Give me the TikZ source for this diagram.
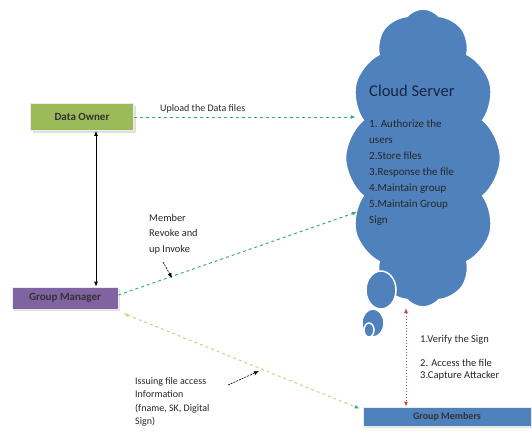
\documentclass[tikz,border=0pt]{standalone}
\usepackage{fontspec}
\setmainfont{Carlito}
\usetikzlibrary{arrows.meta,positioning,shapes.symbols,shadows}
\definecolor{ownergreen}{RGB}{155,187,89}
\definecolor{mgrpurple}{RGB}{128,100,162}
\definecolor{cloudblue}{RGB}{79,129,189}
\definecolor{titleblue}{RGB}{25,35,65}
\definecolor{flowgreen}{RGB}{55,175,115}
\definecolor{flowyellow}{RGB}{205,210,120}
\definecolor{flowred}{RGB}{200,70,70}

\begin{document}
\begin{tikzpicture}[x=1pt,y=-1pt,
  box/.style={draw=black!8,line width=0.8pt,inner sep=0pt,text=black!80,
    font=\fontsize{11}{13}\selectfont\bfseries,
    drop shadow={shadow xshift=2pt,shadow yshift=-2pt,fill=black!25}},
  lbl/.style={anchor=north west,inner sep=0pt,align=left,text=black!85},
  flow/.style={line width=1pt,dash pattern=on 3pt off 3pt,-{Latex[length=5pt,width=4pt]}},
  pointer/.style={line width=0.6pt,dash pattern=on 2pt off 1pt,-{Latex[length=5pt,width=4pt]}},
  bubble/.style={fill=cloudblue,draw=white,line width=1.5pt}]
  \useasboundingbox (0,0) rectangle (532,434);
  % parties
  \node[box,fill=ownergreen,minimum width=103pt,minimum height=27pt] (owner) at (82,117) {Data Owner};
  \node[box,fill=mgrpurple,minimum width=106pt,minimum height=22pt] (manager) at (65,298) {Group Manager};
  \node[box,fill=cloudblue,minimum width=168pt,minimum height=19pt,font=\fontsize{10}{12}\selectfont\bfseries] (members) at (447,416.5) {Group Members};
  % cloud
  \node[cloud,cloud puffs=12,cloud puff arc=100,cloud ignores aspect,minimum width=155pt,minimum height=298pt,
    fill=cloudblue,draw=white,line width=1.5pt] (cloud) at (423,158) {};
  \draw[bubble] (381,290) ellipse (15 and 19);
  \draw[bubble] (373,323) ellipse (11 and 14);
  \draw[bubble] (369,330) ellipse (5 and 7);
  \node[anchor=west,inner sep=0pt,text=titleblue,font=\fontsize{16.5}{18}\selectfont] (srvtitle) at (369,91) {Cloud Server};
  \node[lbl,font=\fontsize{11}{16}\selectfont] (srvlist) at (369,119.5)
    {1. Authorize the\\users\\2.Store files\\3.Response the file\\4.Maintain group\\5.Maintain Group\\Sign};
  % connectors
  \draw[flow,color=flowgreen] (owner.east) -- ([xshift=11pt]owner.east -| cloud.west);
  \node[lbl,anchor=base west,font=\fontsize{10}{12}\selectfont] (uplbl) at (160,111) {Upload the Data files};
  \draw[{Latex[length=5pt,width=4pt]}-{Latex[length=5pt,width=4pt]},line width=0.8pt]
    ([xshift=14pt]owner.south) -- ([xshift=14pt]owner.south |- manager.north);
  \coordinate (revin) at (357,212);
  \draw[flow,color=flowgreen] ([yshift=3pt]manager.east) -- (revin);
  \node[lbl,font=\fontsize{10.4}{15.5}\selectfont] (revlbl) at (149,214) {Member\\Revoke and\\up Invoke};
  \coordinate (revtail) at (163,262);
  \coordinate (revtip) at (172,278);
  \draw[pointer] (revtail) -- (revtip);
  \draw[flow,color=flowyellow,{Latex[length=5pt,width=4pt]}-{Latex[length=5pt,width=4pt,color=flowgreen]}]
    ([xshift=5pt,yshift=-4pt]manager.south east) -- ([xshift=-3pt,yshift=-2pt]members.north west);
  \node[lbl,font=\fontsize{10}{13.5}\selectfont] (isslbl) at (135,377) {Issuing file access\\Information\\(fname, SK, Digital\\Sign)};
  \coordinate (isstail) at (228,385);
  \coordinate (isstip) at (259,371);
  \draw[pointer] (isstail) -- (isstip);
  \coordinate (cloudbot) at (406,308);
  \draw[flowred,line width=0.8pt,dash pattern=on 1.5pt off 1.5pt,{Latex[length=5pt,width=4pt]}-{Latex[length=5pt,width=4pt]}]
    (cloudbot) -- (cloudbot |- members.north);
  \node[lbl,anchor=west,font=\fontsize{10.5}{12}\selectfont] (verify) at (420,340) {1.Verify the Sign};
  \node[lbl,anchor=west,font=\fontsize{10.5}{12}\selectfont] (access) at (420,363) {2. Access the file};
  \node[lbl,anchor=west,font=\fontsize{10.5}{12}\selectfont] (capture) at (420,376) {3.Capture Attacker};
\end{tikzpicture}
\end{document}
